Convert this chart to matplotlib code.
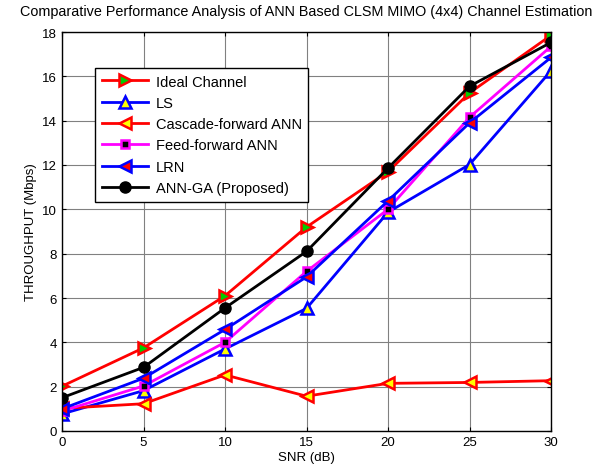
import matplotlib
matplotlib.use("Agg")
import matplotlib.pyplot as plt

plt.rcParams['font.family'] = ['Liberation Sans', 'DejaVu Sans']

snr = [0, 5, 10, 15, 20, 25, 30]
ideal = [2.02, 3.75, 6.1, 9.2, 11.7, 15.25, 17.85]
ls = [0.77, 1.82, 3.7, 5.53, 9.87, 12.02, 16.25]
cascade = [1.02, 1.23, 2.53, 1.57, 2.15, 2.19, 2.27]
feed = [0.9, 2.03, 4.0, 7.2, 10.0, 14.15, 17.35]
lrn = [1.0, 2.38, 4.58, 6.95, 10.38, 13.9, 16.85]
annga = [1.5, 2.87, 5.55, 8.1, 11.86, 15.55, 17.53]

labels = ['Ideal Channel', 'LS', 'Cascade-forward ANN', 'Feed-forward ANN', 'LRN', 'ANN-GA (Proposed)']
xticks = [0, 5, 10, 15, 20, 25, 30]
yticks = [0, 2, 4, 6, 8, 10, 12, 14, 16, 18]

fig = plt.figure(figsize=(6.10, 4.77), dpi=100)
ax = fig.add_axes([62/610, 1-432/477, (551-62)/610, (432-33)/477])

lw = 2
ms = 8
ax.plot(snr, ideal, color='red', lw=lw, marker='>', ms=ms, mfc='#00cc00', mec='red', mew=1.8, label=labels[0])
ax.plot(snr, ls, color='blue', lw=lw, marker='^', ms=ms, mfc='yellow', mec='blue', mew=1.8, label=labels[1])
ax.plot(snr, cascade, color='red', lw=lw, marker='<', ms=ms, mfc='yellow', mec='red', mew=1.8, label=labels[2])
ax.plot(snr, feed, color='magenta', lw=lw, marker='s', ms=6, mfc='black', mec='magenta', mew=1.8, label=labels[3])
ax.plot(snr, lrn, color='blue', lw=lw, marker='<', ms=ms, mfc='red', mec='blue', mew=1.8, label=labels[4])
ax.plot(snr, annga, color='black', lw=lw, marker='o', ms=ms, mfc='black', mec='black', label=labels[5])

ax.set_xlim(0, 30)
ax.set_ylim(0, 18)
ax.set_xticks(xticks)
ax.set_yticks(yticks)
ax.tick_params(direction='in', labelsize=9.5, length=3, top=True, right=True)
ax.grid(True, color='#808080', lw=0.8)
ax.set_axisbelow(True)
for s in ax.spines.values():
    s.set_linewidth(1)

ax.set_xlabel('SNR (dB)', fontsize=9.5, labelpad=2)
ax.set_ylabel('THROUGHPUT (Mbps)', fontsize=9.5, labelpad=4)
ax.set_title('Comparative Performance Analysis of ANN Based CLSM MIMO (4x4) Channel Estimation', fontsize=10.4, pad=12)

leg = ax.legend(loc='upper left', bbox_to_anchor=((95-62)/489, (432-69)/399), fontsize=10.5,
                fancybox=False, edgecolor='black', framealpha=1, handlelength=3.2,
                borderpad=0.45, labelspacing=0.5, handletextpad=0.5, borderaxespad=0)
leg.get_frame().set_linewidth(1)

fig.savefig('out.png', dpi=100)
